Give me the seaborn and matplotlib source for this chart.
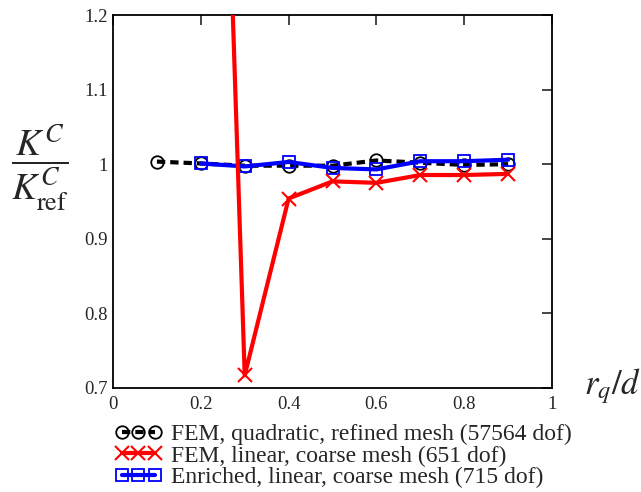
import matplotlib
matplotlib.use("Agg")
import matplotlib.pyplot as plt
import seaborn as sns
import numpy as np
import pandas as pd

# data
x_quad = [0.1, 0.2, 0.3, 0.4, 0.5, 0.6, 0.7, 0.8, 0.9]
y_quad = [1.0035, 1.001, 0.998, 0.998, 0.998, 1.005, 1.002, 0.999, 1.000]
x_lin = [0.2, 0.3, 0.4, 0.5, 0.6, 0.7, 0.8, 0.9]
y_lin = [2.5, 0.717, 0.954, 0.977, 0.975, 0.9855, 0.9855, 0.987]
x_enr = [0.2, 0.3, 0.4, 0.5, 0.6, 0.7, 0.8, 0.9]
y_enr = [1.001, 0.997, 1.003, 0.995, 0.993, 1.004, 1.004, 1.006]
labels = ["FEM, quadratic, refined mesh (57564 dof)",
          "FEM, linear, coarse mesh (651 dof)",
          "Enriched, linear, coarse mesh (715 dof)"]
xticks = [0, 0.2, 0.4, 0.6, 0.8, 1]
xticklabels = ["0", "0.2", "0.4", "0.6", "0.8", "1"]
yticks = [0.7, 0.8, 0.9, 1.0, 1.1, 1.2]
yticklabels = ["0.7", "0.8", "0.9", "1", "1.1", "1.2"]

sns.set_style("white")
plt.rcParams['font.family'] = ['Liberation Serif', 'DejaVu Serif']
plt.rcParams['mathtext.fontset'] = 'stix'

fig = plt.figure(figsize=(6.41, 4.92), dpi=100)
ax = fig.add_axes([0.1763, 0.2114, 0.8612 - 0.1763, 0.9695 - 0.2114])

sns.lineplot(x=x_quad, y=y_quad, ax=ax, color='black', linewidth=3,
             dashes=False, linestyle=(0, (2, 1.2)), marker='o', markersize=9,
             markerfacecolor='none', markeredgecolor='black', markeredgewidth=1.3,
             label=labels[0], zorder=3)
sns.lineplot(x=x_lin, y=y_lin, ax=ax, color='red', linewidth=3,
             marker='x', markersize=10, markeredgewidth=1.5,
             markeredgecolor='red', label=labels[1], zorder=4)
sns.lineplot(x=x_enr, y=y_enr, ax=ax, color='blue', linewidth=3,
             marker='s', markersize=8.5, markerfacecolor='none',
             markeredgecolor='blue', markeredgewidth=1.3,
             label=labels[2], zorder=3)

ax.set_xlim(0, 1)
ax.set_ylim(0.7, 1.2)
ax.set_xticks(xticks)
ax.set_xticklabels(xticklabels)
ax.set_yticks(yticks)
ax.set_yticklabels(yticklabels)
ax.tick_params(direction='in', length=7, width=1.2, labelsize=13.5,
               top=True, right=True, labeltop=False, labelright=False, pad=4)
ax.tick_params(axis='x', pad=6)
for s in ax.spines.values():
    s.set_visible(True)
    s.set_color('black')
    s.set_linewidth(1.3)
ax.set_xlabel("")
ax.set_ylabel("")

fig.text(0.063, 0.658, r'$\dfrac{K^{C}}{K^{C}_{\mathrm{ref}}}$', fontsize=27,
         ha='center', va='center')
fig.text(0.955, 0.215, r'$r_q/d$', fontsize=25, ha='center', va='center')

leg = ax.legend(loc='upper left', bbox_to_anchor=(-0.018, -0.07),
                frameon=False, fontsize=17, numpoints=3, handlelength=2.0,
                handletextpad=0.4, labelspacing=0.0, borderaxespad=0)

fig.savefig("out.png", dpi=100, facecolor='white')
